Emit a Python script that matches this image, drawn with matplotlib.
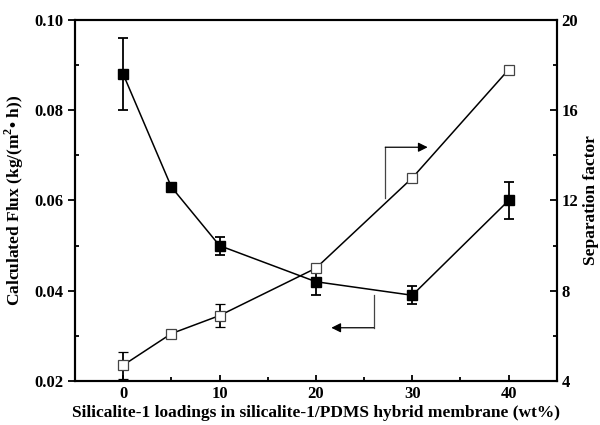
import matplotlib
matplotlib.use("Agg")
import matplotlib.pyplot as plt
from matplotlib.ticker import MultipleLocator

plt.rcParams['font.family'] = ['Liberation Serif', 'DejaVu Serif']
plt.rcParams['font.weight'] = 'bold'
plt.rcParams['mathtext.fontset'] = 'custom'
plt.rcParams['mathtext.rm'] = 'Liberation Serif:bold'
plt.rcParams['mathtext.bf'] = 'Liberation Serif:bold'

loading = [0, 5, 10, 20, 30, 40]
flux = [0.088, 0.063, 0.050, 0.042, 0.039, 0.060]
flux_err = [0.008, 0.0006, 0.002, 0.003, 0.002, 0.004]
sep = [4.7, 6.1, 6.9, 9.0, 13.0, 17.8]
sep_err = [0.6, 0.12, 0.5, 0.1, 0.08, 0.12]

fig = plt.figure(figsize=(6, 4.25), dpi=100)
ax = fig.add_axes([0.125, 0.1035, 0.803, 0.8495])
ax2 = ax.twinx()

ax.errorbar(loading, flux, yerr=flux_err, color='black', marker='s', ms=7,
            mfc='black', mec='black', lw=1.1, elinewidth=1.3, capsize=3.5, capthick=1.3)
ax2.errorbar(loading, sep, yerr=sep_err, color='black', marker='s', ms=6.5,
             mfc='white', mec='#444444', mew=0.9, lw=1.1, elinewidth=1.3, capsize=3.5, capthick=1.3)

ax.set_xlim(-5, 45)
ax.set_ylim(0.02, 0.10)
ax2.set_ylim(4, 20)

ax.xaxis.set_major_locator(MultipleLocator(10))
ax.xaxis.set_minor_locator(MultipleLocator(5))
ax.yaxis.set_major_locator(MultipleLocator(0.02))
ax.yaxis.set_minor_locator(MultipleLocator(0.01))
ax2.yaxis.set_major_locator(MultipleLocator(4))
ax2.yaxis.set_minor_locator(MultipleLocator(2))

ax.set_yticklabels([f'{v:.2f}' for v in ax.get_yticks()])

ax.tick_params(axis='x', which='both', direction='in', top=False, labelsize=12, width=1.3)
ax.tick_params(axis='x', which='major', length=4)
ax.tick_params(axis='x', which='minor', length=3)
ax.tick_params(axis='y', which='major', direction='out', length=5, width=1.3, labelsize=12)
ax.tick_params(axis='y', which='minor', direction='in', length=3, width=1.3)
ax2.tick_params(axis='y', which='major', direction='in', length=5, width=1.3, labelsize=12)
ax2.tick_params(axis='y', which='minor', direction='in', length=3, width=1.3)

for a in (ax, ax2):
    for s in a.spines.values():
        s.set_linewidth(1.5)

ax.set_xlabel('Silicalite-1 loadings in silicalite-1/PDMS hybrid membrane (wt%)',
              fontsize=12.5, fontweight='bold', labelpad=2)
ax.set_ylabel(r'Calculated Flux (kg/(m$^{2}$• h))', fontsize=12.5, fontweight='bold', labelpad=6)
ax2.set_ylabel('Separation factor', fontsize=12.5, fontweight='bold', labelpad=3)

# indicator arrows
ax2.plot([27.2, 27.2], [12.1, 14.36], color='#444444', lw=0.9)
ax2.annotate('', xy=(31.6, 14.36), xytext=(27.2, 14.36),
             arrowprops=dict(arrowstyle='-|>', color='black', lw=0.9, mutation_scale=14, shrinkA=0, shrinkB=0))
ax.plot([26.0, 26.0], [0.0391, 0.0318], color='#444444', lw=0.9)
ax.annotate('', xy=(21.6, 0.0318), xytext=(26.0, 0.0318),
            arrowprops=dict(arrowstyle='-|>', color='black', lw=0.9, mutation_scale=14, shrinkA=0, shrinkB=0))

fig.savefig('out.png', dpi=100)
